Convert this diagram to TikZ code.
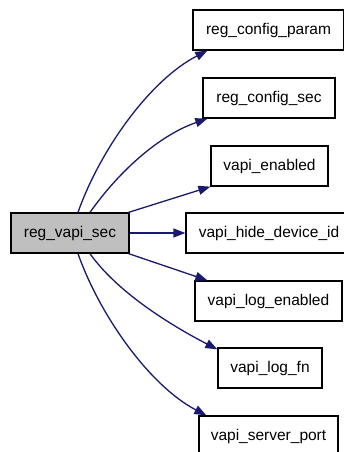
\documentclass[tikz,border=0pt]{standalone}
\usepackage{fontspec}
\setmainfont{Liberation Sans}
\usetikzlibrary{arrows.meta}
\definecolor{edgeblue}{HTML}{191970}
\definecolor{srcgray}{HTML}{BFBFBF}
\tikzset{
  fn/.style={draw=black, line width=1.3pt, inner sep=0pt, minimum height=40pt,
    font=\fontsize{15.5}{18}\selectfont, text=black},
  srcbox/.style={fn, fill=srcgray},
  call/.style={draw=edgeblue, line width=1.3pt, -{Triangle[length=12pt,width=9pt]}}
}
\begin{document}
\begin{tikzpicture}[x=1pt,y=-1pt]
\useasboundingbox (0,0) rectangle (343,452);
\node[srcbox, minimum width=118pt] (src) at (70,233) {reg\_vapi\_sec};
\node[fn, minimum width=151pt] (t1) at (268.5,30) {reg\_config\_param};
\node[fn, minimum width=132pt] (t2) at (269,98) {reg\_config\_sec};
\node[fn, minimum width=117pt] (t3) at (269.5,166) {vapi\_enabled};
\node[fn, minimum width=166pt] (t4) at (269,233) {vapi\_hide\_device\_id};
\node[fn, minimum width=147pt] (t5) at (268.5,301) {vapi\_log\_enabled};
\node[fn, minimum width=104pt] (t6) at (270,368) {vapi\_log\_fn};
\node[fn, minimum width=139pt] (t7) at (268.5,436) {vapi\_server\_port};
\coordinate (s1) at ([xshift=8pt]src.north);
\coordinate (s2) at ([xshift=20pt]src.north);
\coordinate (s3) at ([xshift=-1pt]src.north east);
\coordinate (s5) at ([xshift=-1pt]src.south east);
\coordinate (s6) at ([xshift=20pt]src.south);
\coordinate (s7) at ([xshift=8pt]src.south);
\coordinate (e1) at ([xshift=15pt]t1.south west);
\coordinate (e2) at ([xshift=5pt]t2.south west);
\coordinate (e5) at ([xshift=13pt]t5.north west);
\coordinate (e6) at ([yshift=-2pt]t6.north west);
\coordinate (e7) at ([xshift=8pt]t7.north west);
\draw[call] (s1) .. controls (100,150) and (150,80) .. (e1);
\draw[call] (s2) .. controls (120,170) and (160,135) .. (e2);
\draw[call] (s3) -- (t3.south west);
\draw[call] (src.east) -- (t4.west);
\draw[call] (s5) -- (e5);
\draw[call] (s6) .. controls (120,296) and (180,330) .. (e6);
\draw[call] (s7) .. controls (100,316) and (150,386) .. (e7);
\end{tikzpicture}
\end{document}
